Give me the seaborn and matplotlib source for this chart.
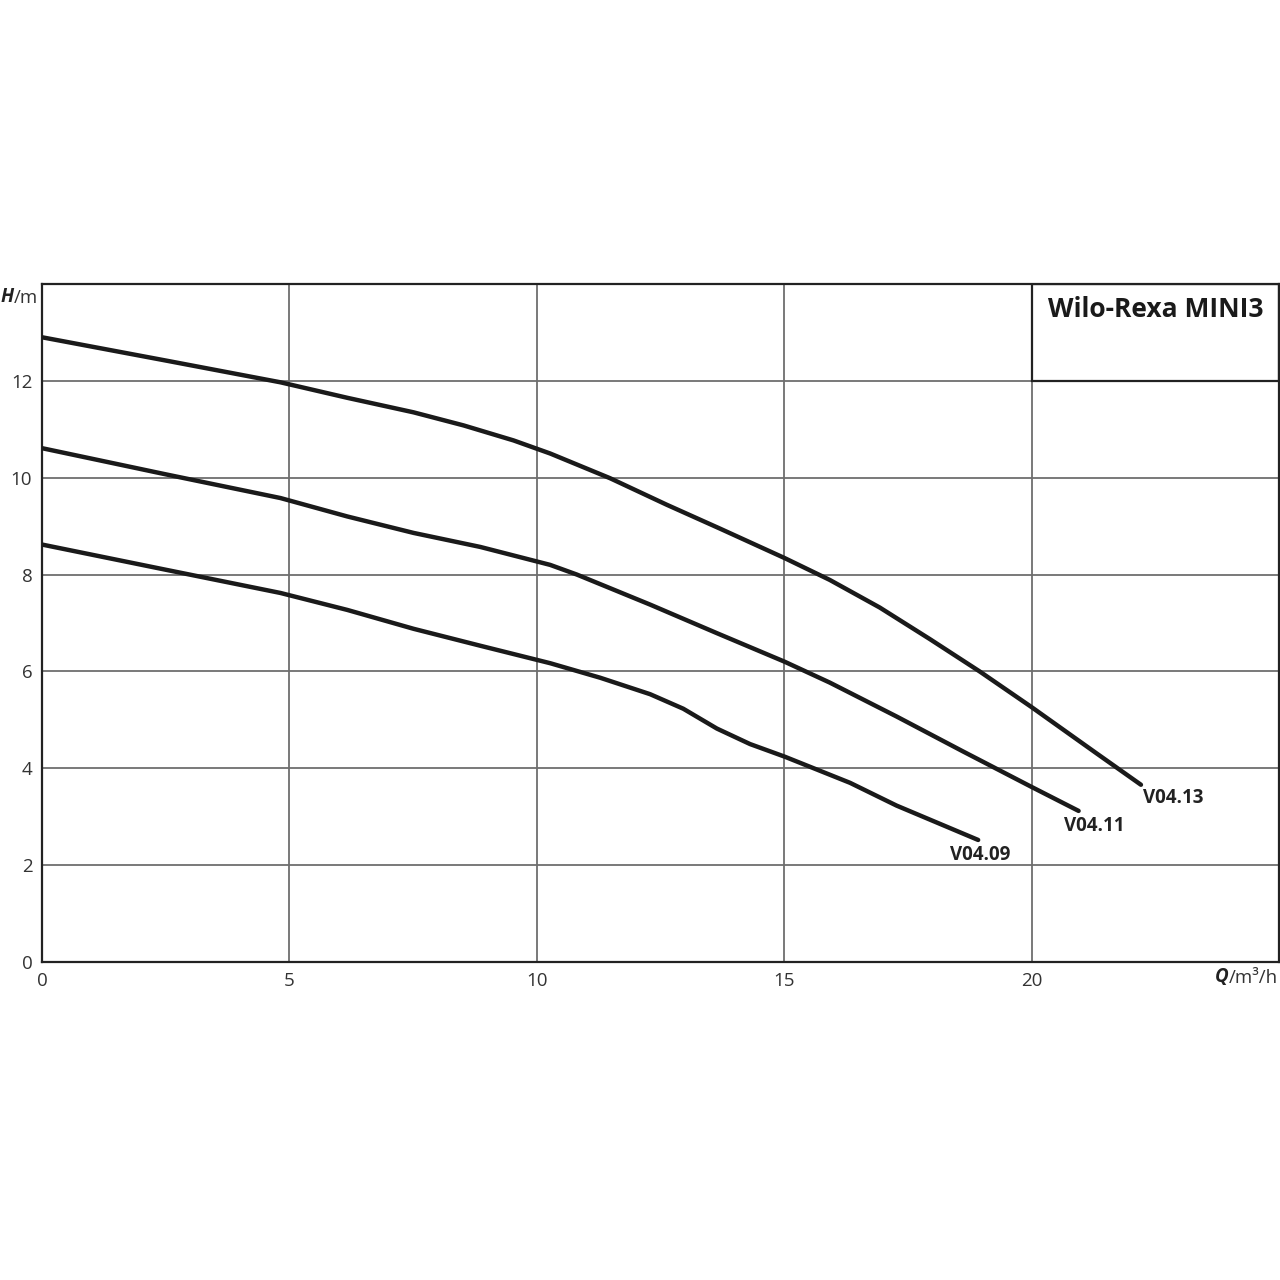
import pandas as pd
import matplotlib.pyplot as plt
import seaborn as sns
from matplotlib.patches import Rectangle

# pump curves (Q in m3/h, H in m)
q_v0413 = [0, 2.5, 4.82, 6.17, 7.51, 8.52, 9.53, 10.27, 11.48, 12.63, 13.7, 15.01, 15.92, 16.93, 17.94, 18.95, 19.99, 21.31, 22.21]
h_v0413 = [12.9, 12.42, 11.97, 11.65, 11.35, 11.08, 10.77, 10.5, 9.99, 9.44, 8.95, 8.34, 7.89, 7.32, 6.67, 6.0, 5.27, 4.31, 3.66]

q_v0411 = [0, 2.5, 4.82, 6.17, 7.51, 8.86, 10.27, 10.81, 12.29, 13.64, 15.01, 15.92, 17.27, 18.61, 19.99, 20.95]
h_v0411 = [10.61, 10.07, 9.58, 9.2, 8.86, 8.57, 8.2, 8.0, 7.38, 6.79, 6.2, 5.77, 5.07, 4.35, 3.62, 3.12]

q_v0409 = [0, 2.5, 4.82, 6.17, 7.51, 8.86, 10.27, 11.28, 12.29, 12.96, 13.64, 14.31, 15.01, 16.33, 17.27, 18.92]
h_v0409 = [8.62, 8.1, 7.62, 7.27, 6.88, 6.53, 6.17, 5.87, 5.53, 5.23, 4.82, 4.5, 4.24, 3.7, 3.23, 2.52]

names = ["V04.13", "V04.11", "V04.09"]
x_ticks = [0, 5, 10, 15, 20]
y_ticks = [0, 2, 4, 6, 8, 10, 12]
title = "Wilo-Rexa MINI3"

curves = {"V04.13": (q_v0413, h_v0413), "V04.11": (q_v0411, h_v0411), "V04.09": (q_v0409, h_v0409)}
rows = []
for name in names:
    for q, h in zip(*curves[name]):
        rows.append({"Q": q, "H": h, "pump": name})
df = pd.DataFrame(rows)

sns.set_theme(style="white")
plt.rcParams["font.family"] = ["Open Sans", "DejaVu Sans"]

fig = plt.figure(figsize=(12.8, 12.8), dpi=100)
ax = fig.add_axes([42 / 1280, 318 / 1280, 1237 / 1280, 678 / 1280])

# grid
for x in [5, 10, 15, 20]:
    ax.axvline(x, color="#6e6e6e", lw=1.3, zorder=1)
for y in [2, 4, 6, 8, 10, 12]:
    ax.axhline(y, color="#6e6e6e", lw=1.3, zorder=1)

sns.lineplot(data=df, x="Q", y="H", hue="pump", palette=["#1a1a1a"] * 3,
             sort=False, estimator=None, lw=3.2, legend=False, ax=ax, zorder=3)
for line in ax.get_lines():
    line.set_solid_joinstyle("round")

ax.set_xlim(0, 25)
ax.set_ylim(0, 14)
ax.set_xticks(x_ticks)
ax.set_yticks(y_ticks)
ax.tick_params(length=0, labelsize=13.5, colors="#333333", pad=7)
ax.set_xlabel("")
ax.set_ylabel("")
for sp in ax.spines.values():
    sp.set_color("#222222")
    sp.set_linewidth(1.6)

# title box in the top right corner
ax.add_patch(Rectangle((20, 12), 5, 2, fill=False, edgecolor="#222222", lw=1.6, zorder=4))
ax.text(22.5, 13.47, title, ha="center", va="center", fontsize=19, fontweight="bold", color="#1a1a1a")

# curve labels at curve ends (offsets in points)
offsets = {"V04.13": (23, -9.5), "V04.11": (11, -11), "V04.09": (1.5, -11)}
for name in names:
    q, h = curves[name]
    ax.annotate(name, xy=(q[-1], h[-1]), xytext=offsets[name], textcoords="offset points",
                ha="center", va="center", fontsize=13.5, fontweight="bold", color="#222222")

# axis labels
t1 = fig.text(1 / 1280, 1 - 297 / 1280, "H", fontsize=13.5, fontweight="bold", style="italic",
              color="#222222", va="center")
ax.annotate("/m", xy=(1, 0), xycoords=t1, va="bottom", fontsize=13.5, color="#333333")
t2 = fig.text(1278 / 1280, 1 - 978 / 1280, "/m³/h", fontsize=13.5, color="#333333",
              ha="right", va="center")
ax.annotate("Q", xy=(0, 0), xycoords=t2, ha="right", va="bottom", fontsize=13.5,
            fontweight="bold", style="italic", color="#222222")

fig.savefig("out.png", dpi=100)
